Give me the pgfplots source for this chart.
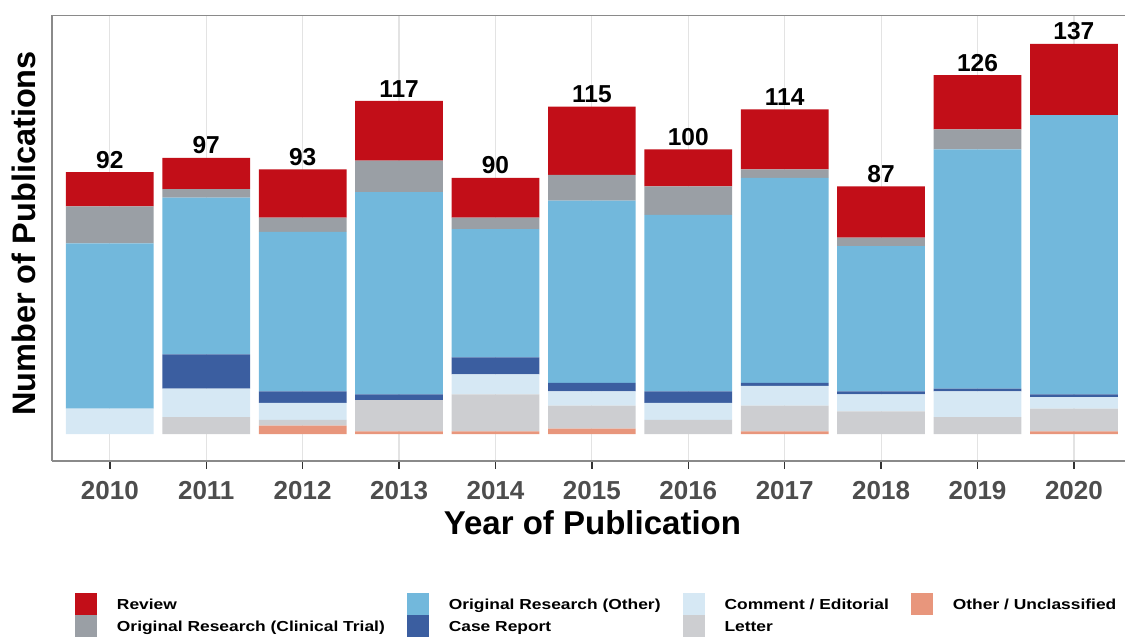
\documentclass[border=0pt]{standalone}
\usepackage{pgfplots}
\pgfplotsset{compat=1.18}
\usepackage{pgfplotstable}
\usepackage{fontspec}
\setmainfont{Liberation Sans}
\newfontfamily\legfont[FakeStretch=1.2]{Liberation Sans}
\definecolor{cReview}{HTML}{C20E18}
\definecolor{cCT}{HTML}{9A9FA5}
\definecolor{cOrig}{HTML}{72B8DC}
\definecolor{cCase}{HTML}{3B5EA0}
\definecolor{cComm}{HTML}{D6E8F4}
\definecolor{cLetter}{HTML}{CDCED1}
\definecolor{cOther}{HTML}{E8967C}
\definecolor{cFrame}{HTML}{8A8A8A}
\definecolor{cTick}{HTML}{4D4D4D}

\pgfplotstableread{
idx other letter comment casereport orig ct review total
0   0     0      9       0          58   13 12     92
1   0     6      10      12         55   3  11     97
2   3     2      6       4          56   5  17     93
3   1     11     0       2          71   11 21     117
4   1     13     7       6          45   4  14     90
5   2     8      5       3          64   9  24     115
6   0     5      6       4          62   10 13     100
7   1     9      7       1          72   3  21     114
8   0     8      6       1          51   3  18     87
9   0     6      9       1          84   7  19     126
10  1     8      4       1          98   0  25     137
}\datatable

\pgfplotsset{
  leg/.style={legend image code/.code={\fill[##1] (0pt,-10pt) rectangle (22pt,12pt);}},
  frame geom/.style={
    at={(52pt,176pt)}, anchor=south west,
    width=1073pt, height=445.3pt, scale only axis,
    xmin=-0.6, xmax=10.53, ymin=-9.4, ymax=146.9,
  },
}

\begin{document}
\begin{tikzpicture}[x=1pt,y=1pt]
\useasboundingbox (0,0) rectangle (1125,637);
\begin{axis}[
  frame geom,
  ybar stacked, bar width=0.91,
  xtick={0,...,10},
  xticklabels={2010,2011,2012,2013,2014,2015,2016,2017,2018,2019,2020},
  ytick=\empty,
  xmajorgrids,
  grid style={line width=1.2pt, color=black!11},
  tick align=outside, xtick pos=left,
  major tick length=8pt,
  tick style={line width=1.5pt, color=black!80},
  xticklabel style={font=\fontsize{26}{26}\selectfont\bfseries, text=cTick, inner sep=0pt, anchor=north, yshift=-12pt},
  axis line style={draw=none},
  xlabel={Year of Publication},
  ylabel={Number of Publications},
  xlabel style={font=\fontsize{33}{33}\selectfont\bfseries, at={(axis description cs:0.5037,-0.138)}, anchor=center},
  ylabel style={font=\fontsize{32.5}{32.5}\selectfont\bfseries, at={(axis description cs:-0.0266,0.511)}, anchor=center},
  reverse legend,
  transpose legend,
  legend columns=2,
  legend style={at={(axis description cs:0.0214,-0.2964)}, anchor=north west,
    draw=none, fill=none, inner sep=0pt, outer sep=0pt,
    column sep=20pt, row sep=0pt,
    /tikz/every even column/.append style={column sep=22pt},
    font=\legfont\fontsize{14.5}{14.5}\selectfont\bfseries,
    nodes={inner sep=0pt}},
  legend cell align=left,
  after end axis/.code={
    \draw[cFrame, line width=1.5pt] (rel axis cs:0,0) -- (rel axis cs:0,1) -- (rel axis cs:1,1);
    \draw[cFrame, line width=1.8pt] (rel axis cs:0,0) -- (rel axis cs:1,0);
  },
]
\addplot[fill=cOther, draw=none, leg] table[x=idx, y=other] \datatable;
\addlegendentry{Other / Unclassified}
\addplot[fill=cLetter, draw=none, leg] table[x=idx, y=letter] \datatable;
\addlegendentry{Letter}
\addplot[fill=cComm, draw=none, leg] table[x=idx, y=comment] \datatable;
\addlegendentry{Comment / Editorial}
\addplot[fill=cCase, draw=none, leg] table[x=idx, y=casereport] \datatable;
\addlegendentry{Case Report}
\addplot[fill=cOrig, draw=none, leg] table[x=idx, y=orig] \datatable;
\addlegendentry{Original Research (Other)}
\addplot[fill=cCT, draw=none, leg] table[x=idx, y=ct] \datatable;
\addlegendentry{Original Research (Clinical Trial)}
\addplot[fill=cReview, draw=none, leg] table[x=idx, y=review] \datatable;
\addlegendentry{Review}
\end{axis}
\begin{axis}[frame geom, hide axis]
\addplot[draw=none, mark=none,
  point meta=explicit symbolic, nodes near coords,
  nodes near coords style={font=\fontsize{24.5}{24.5}\selectfont\bfseries, text=black, anchor=south, inner sep=0pt, yshift=3.5pt}]
  table[x=idx, y=total, meta=total] \datatable;
\end{axis}
\end{tikzpicture}
\end{document}
